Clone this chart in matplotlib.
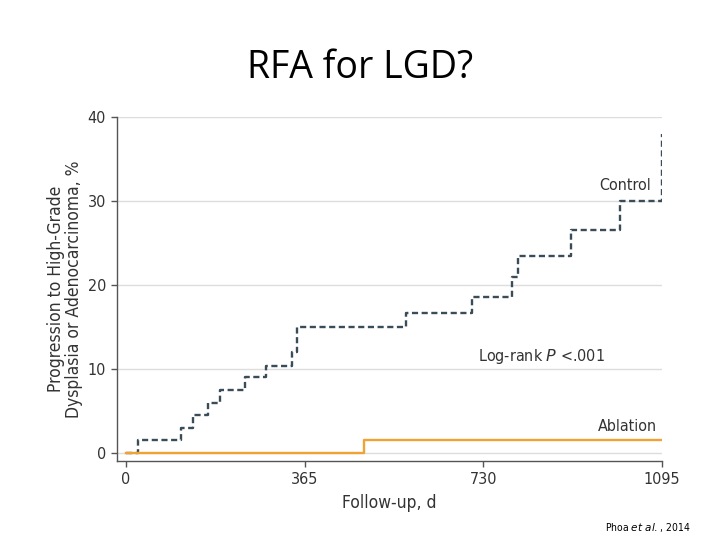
import matplotlib
matplotlib.use("Agg")
import matplotlib.pyplot as plt

# Data
control_days = [0, 25, 112, 137, 167, 192, 244, 286, 339, 349, 572, 708, 789, 800, 910, 1009, 1095]
control_pct = [0, 1.5, 3.0, 4.5, 6.0, 7.5, 9.0, 10.4, 12.0, 15.0, 16.7, 18.6, 21.0, 23.5, 26.5, 30.0, 38.0]
ablation_days = [0, 486, 1095]
ablation_pct = [0, 1.5, 1.5]
x_ticks = [0, 365, 730, 1095]
y_ticks = [0, 10, 20, 30, 40]

plt.rcParams['mathtext.fontset'] = 'custom'
plt.rcParams['mathtext.it'] = 'DejaVu Sans:italic'
plt.rcParams['mathtext.rm'] = 'DejaVu Sans'

fig = plt.figure(figsize=(7.2, 5.4), dpi=100)
ax = fig.add_axes([117/720, 1 - 461/540, (662 - 117)/720, (461 - 117)/540])

ax.step(control_days, control_pct, where='post', color='#3b4c59', lw=1.7,
        linestyle=(0, (2.6, 1.5)))
ax.step(ablation_days, ablation_pct, where='post', color='#f0a232', lw=1.7)

ax.set_xlim(-18, 1095)
ax.set_ylim(-0.95, 40)
ax.set_xticks(x_ticks)
ax.set_yticks(y_ticks)
cond = dict(family='DejaVu Sans', stretch='condensed')
ax.set_xticklabels([str(t) for t in x_ticks], fontsize=11.5, color='#333333', **cond)
ax.set_yticklabels([str(t) for t in y_ticks], fontsize=11.5, color='#333333', **cond)
ax.tick_params(length=4, width=1, color='#555555', pad=4)
for s in ['top', 'right']:
    ax.spines[s].set_visible(False)
for s in ['left', 'bottom']:
    ax.spines[s].set_color('#555555')
    ax.spines[s].set_linewidth(1.0)
ax.grid(axis='y', color='#dddddd', lw=1.0)
ax.set_axisbelow(True)

ax.set_xlabel('Follow-up, d', fontsize=12.5, color='#333333', labelpad=5, **cond)
ax.set_ylabel('Progression to High-Grade\nDysplasia or Adenocarcinoma, %', fontsize=12.5,
              color='#333333', labelpad=3, linespacing=1.05, **cond)

ax.text(1072, 31.9, 'Control', ha='right', va='center', fontsize=11.5, color='#333333', **cond)
ax.text(978, 11.5, r'Log-rank $P$ <.001', ha='right', va='center', fontsize=11.5, color='#333333', **cond)
ax.text(1085, 3.1, 'Ablation', ha='right', va='center', fontsize=11.5, color='#333333', **cond)

fig.text(360/720, 1 - 68/540, 'RFA for LGD?', ha='center', va='center', fontsize=27,
         family='Open Sans', color='black')
fig.text(690/720, 1 - 528/540, r'Phoa $et\ al.$, 2014', ha='right', va='center', fontsize=7.5,
         color='black', **cond)

fig.savefig('out.png', dpi=100)
